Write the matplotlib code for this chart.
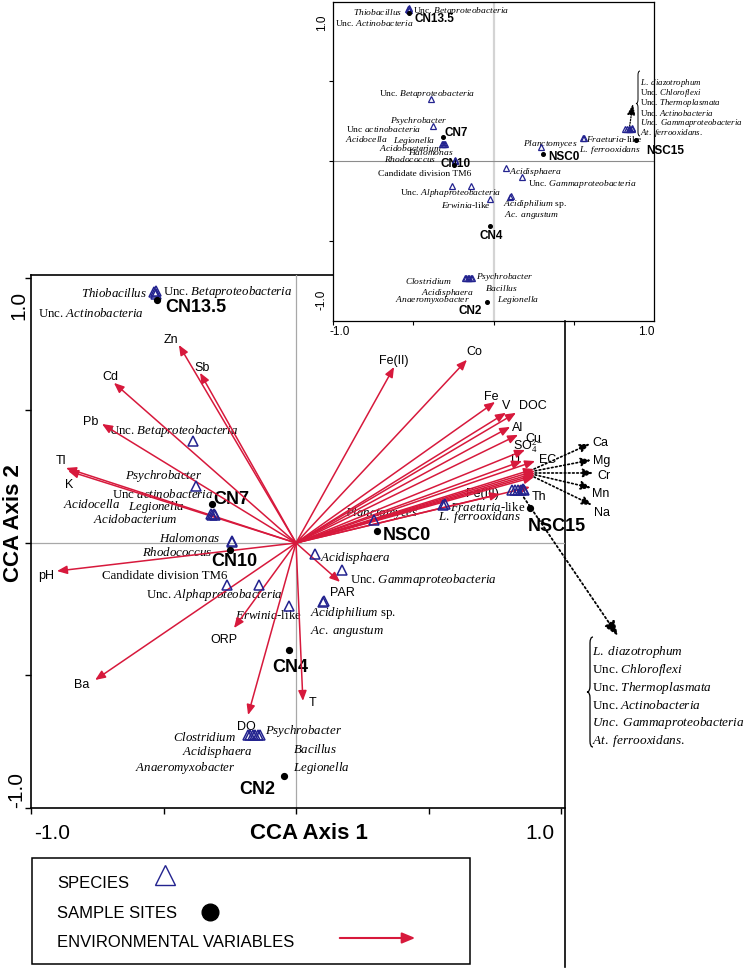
import matplotlib.pyplot as plt
from matplotlib.patches import FancyArrowPatch, Rectangle, PathPatch
from matplotlib.path import Path

# fonts: species in serif (italic genus names via mathtext), the rest in sans
plt.rcParams['mathtext.fontset'] = 'custom'
plt.rcParams['mathtext.rm'] = 'Liberation Serif'
plt.rcParams['mathtext.it'] = 'Liberation Serif:italic'
plt.rcParams['mathtext.bf'] = 'Liberation Serif:bold'

SERIF = 'Liberation Serif'
SANS = 'Liberation Sans'
RED = '#d7193c'
BLUE = '#23238f'

# ---- species scores (CCA axis 1, axis 2) ----
species_names = [
    '$Thiobacillus$', 'Unc. $Betaproteobacteria$', 'Unc. $Actinobacteria$',
    'Unc. $Betaproteobacteria$', '$Psychrobacter$', 'Unc $actinobacteria$',
    '$Acidocella$', '$Legionella$', '$Acidobacterium$', '$Halomonas$',
    '$Rhodococcus$', 'Candidate division TM6', 'Unc. $Alphaproteobacteria$',
    '$Erwinia$-like', '$Acidisphaera$', 'Unc. $Gammaproteobacteria$',
    '$Acidiphilium$ sp.', r'$Ac.\ angustum$', '$Clostridium$',
    '$Acidisphaera$', '$Anaeromyxobacter$', '$Psychrobacter$', '$Bacillus$',
    '$Legionella$', '$Planctomyces$', '$Fraeturia$-like', r'$L.\ ferrooxidans$',
    r'$L.\ diazotrophum$', 'Unc. $Chloroflexi$', 'Unc. $Thermoplasmata$',
    'Unc. $Actinobacteria$', r'$Unc.\ Gammaproteobacteria$', r'$At.\ ferrooxidans.$',
]
species_x = [-0.534, -0.530, -0.528, -0.389, -0.377, -0.321, -0.316, -0.311,
             -0.305, -0.242, -0.240, -0.260, -0.140, -0.026, 0.072, 0.174,
             0.102, 0.104, -0.181, -0.172, -0.163, -0.154, -0.145, -0.136,
             0.294, 0.556, 0.561, 0.815, 0.826, 0.837, 0.848, 0.855, 0.860]
species_y = [0.945, 0.949, 0.941, 0.385, 0.215, 0.108, 0.105, 0.108, 0.105,
             0.006, 0.002, -0.158, -0.158, -0.238, -0.042, -0.102, -0.223,
             -0.220, -0.725, -0.725, -0.725, -0.725, -0.725, -0.725, 0.087,
             0.143, 0.146, 0.200, 0.200, 0.200, 0.200, 0.203, 0.198]

# ---- sample sites ----
site_names = ['CN13.5', 'CN7', 'CN10', 'CN4', 'CN2', 'NSC0', 'NSC15']
site_x = [-0.525, -0.317, -0.249, -0.026, -0.045, 0.306, 0.883]
site_y = [0.917, 0.147, -0.026, -0.404, -0.879, 0.045, 0.132]

# ---- environmental variables (arrow tips) ----
env_names = ['Zn', 'Sb', 'Cd', 'Pb', 'Tl', 'K', 'pH', 'Ba', 'ORP', 'DO', 'T',
             'PAR', 'Fe(II)', 'Co', 'Fe', 'V', 'DOC', 'Al', 'Cu', 'SO4', 'U',
             'EC', 'Ca', 'Mg', 'Cr', 'Mn', 'Na', 'Th', 'Fe(III)']
env_x = [-0.442, -0.362, -0.687, -0.732, -0.868, -0.860, -0.902, -0.758,
         -0.234, -0.181, 0.026, 0.166, 0.370, 0.645, 0.751, 0.792, 0.830,
         0.808, 0.838, 0.864, 0.853, 0.902, 0.898, 0.902, 0.902, 0.902,
         0.898, 0.883, 0.770]
env_y = [0.747, 0.642, 0.604, 0.449, 0.283, 0.272, -0.106, -0.517, -0.321,
         -0.649, -0.596, -0.147, 0.664, 0.691, 0.532, 0.491, 0.491, 0.438,
         0.408, 0.351, 0.309, 0.309, 0.279, 0.272, 0.264, 0.257, 0.249,
         0.211, 0.185]
# variables whose real scores lie outside the frame (dotted extensions)
ext_names = ['Ca', 'Mg', 'Cr', 'Mn', 'Na']
ext_x = [1.109, 1.113, 1.121, 1.113, 1.117]
ext_y = [0.374, 0.313, 0.264, 0.208, 0.143]

# cluster of six species near NSC15, pointed to the brace list
cluster_idx = [27, 28, 29, 30, 31, 32]

# ---- label offsets (pixels right, pixels down; alignment) ----
main_sp_off = {
    0: (-7, 0, 'right'), 1: (7, 0, 'left'), 2: (-12, 19, 'right'),
    3: (-19, -11, 'center'), 4: (6, -11, 'right'), 5: (2, -21, 'right'),
    6: (-92, -12, 'right'), 7: (-29, -8, 'right'), 8: (-38, 3, 'right'),
    9: (-12, -4, 'right'), 10: (-20, 9, 'right'), 11: (0, -10, 'right'),
    12: (24, 9, 'right'), 13: (13, 8, 'right'), 14: (5, 3, 'left'),
    15: (8, 9, 'left'), 16: (-13, 10, 'left'), 17: (-14, 29, 'left'),
    18: (-12, 1, 'right'), 19: (2, 16, 'right'), 20: (-17, 32, 'right'),
    21: (10, -5, 'left'), 22: (35, 13, 'left'), 23: (33, 32, 'left'),
    24: (8, -8, 'center'), 25: (7, 1, 'left'), 26: (-7, 12, 'left'),
}
inset_sp_off = {
    0: (-6, 2, 'right'), 1: (4, 2, 'left'), 2: (5, 12, 'right'),
    3: (-4, -6, 'center'), 4: (14, -6, 'right'), 5: (-21, -16, 'right'),
    6: (-55, -6, 'right'), 7: (-9, -4, 'right'), 8: (-3, 3, 'right'),
    9: (-1, -9, 'right'), 10: (-19, -3, 'right'), 11: (19, -13, 'right'),
    12: (30, 6, 'right'), 13: (1, 5, 'right'), 14: (3, 3, 'left'),
    15: (6, 6, 'left'), 16: (-7, 6, 'left'), 17: (-7, 18, 'left'),
    18: (-13, 2, 'right'), 19: (8, 14, 'right'), 20: (2, 21, 'right'),
    21: (7, -2, 'left'), 22: (14, 9, 'left'), 23: (25, 21, 'left'),
    24: (9, -4, 'center'), 25: (3, 0, 'left'), 26: (-5, 11, 'left'),
}
main_site_off = [(8, 7, 'left'), (1, -5, 'left'), (4, 11, 'center'),
                 (1, 16, 'center'), (-27, 13, 'center'), (6, 3, 'left'),
                 (-2, 18, 'left')]
inset_site_off = [(5, 5, 'left'), (2, -5, 'left'), (2, -2, 'center'),
                  (1, 9, 'center'), (-17, 8, 'center'), (5, 2, 'left'),
                  (10, 10, 'left')]
env_off = {
    'Zn': (-8, -6), 'Sb': (2, -6), 'Cd': (-4, -7), 'Pb': (-11, -3),
    'Tl': (-5, -8), 'K': (1, 13), 'pH': (-11, 4), 'Ba': (-13, 4),
    'ORP': (-10, 11), 'DO': (-2, 11), 'T': (10, 1), 'PAR': (2, 10),
    'Fe(II)': (0, -7), 'Co': (7, -9), 'Fe': (-4, -6), 'V': (0, -8),
    'DOC': (17, -8), 'Al': (7, 0), 'Cu': (15, 3), 'SO4': (3, -5),
    'U': (-7, -2), 'EC': (13, -2), 'Th': (9, 9), 'Fe(III)': (-18, -1),
}
ext_off = {'Ca': (2, -2), 'Mg': (2, 0), 'Cr': (4, 2), 'Mn': (1, 5), 'Na': (2, 7)}

PT = 0.72  # pixel -> point at dpi 100


def px(x, y):
    """ピクセル座標 -> figure fraction"""
    return x / 748, 1 - y / 970


def label(ax, text, x, y, off, size, **kw):
    dx, dy = off[0], off[1]
    ha = off[2] if len(off) > 2 else 'center'
    ax.annotate(text, (x, y), xytext=(dx * PT, -dy * PT),
                textcoords='offset points', ha=ha, va='center',
                fontsize=size, annotation_clip=False, **kw)


def brace(ax, x, y0, y1, w, lw):
    """左向きの波括弧 (ピクセル座標, y下向き)"""
    m = (y0 + y1) / 2
    r = w
    verts = [(x + w, y0), (x + w / 2, y0), (x + w / 2, y0 + r),
             (x + w / 2, m - r), (x + w / 2, m), (x, m),
             (x + w / 2, m), (x + w / 2, m + r),
             (x + w / 2, y1 - r), (x + w / 2, y1), (x + w, y1)]
    codes = [Path.MOVETO, Path.CURVE3, Path.CURVE3, Path.LINETO,
             Path.CURVE3, Path.CURVE3, Path.CURVE3, Path.CURVE3,
             Path.LINETO, Path.CURVE3, Path.CURVE3]
    ax.add_patch(PathPatch(Path(verts, codes), fill=False, lw=lw, color='black'))


fig = plt.figure(figsize=(7.48, 9.70), dpi=100)

# overlay in pixel coordinates for frame lines, brace lists and legend
ov = fig.add_axes([0, 0, 1, 1])
ov.set_xlim(0, 748)
ov.set_ylim(970, 0)
ov.axis('off')
ov.plot([31, 333], [276, 276], color='black', lw=1.2)
ov.plot([565, 565], [322, 968], color='black', lw=1.2)

# tick labels and axis titles of the main plot
ov.text(19, 305, '1.0', rotation=90, ha='center', va='center', fontsize=15, family=SANS)
ov.text(17, 790, '-1.0', rotation=90, ha='center', va='center', fontsize=15, family=SANS)
ov.text(52, 834, '-1.0', ha='center', va='center', fontsize=15, family=SANS)
ov.text(540, 834, '1.0', ha='center', va='center', fontsize=15, family=SANS)
ov.text(309, 834, 'CCA Axis 1', ha='center', va='center', fontsize=16,
        family=SANS, weight='bold')
ov.text(14, 523, 'CCA Axis 2', rotation=90, ha='center', va='center',
        fontsize=16, family=SANS, weight='bold')
# inset tick labels
ov.text(322, 23, '1.0', rotation=90, ha='center', va='center', fontsize=8.5, family=SANS)
ov.text(322, 300, '-1.0', rotation=90, ha='center', va='center', fontsize=8.5, family=SANS)
ov.text(340, 332, '-1.0', ha='center', va='center', fontsize=8.5, family=SANS)
ov.text(646, 332, '1.0', ha='center', va='center', fontsize=8.5, family=SANS)

# brace lists of the NSC15 species cluster
brace(ov, 587, 638, 748, 6, 0.9)
for k, i in enumerate(cluster_idx):
    ov.text(592, 652 + k * 17.8, species_names[i], ha='left', va='center',
            fontsize=9.5, family=SERIF)
brace(ov, 636, 72, 137, 4, 0.7)
for k, i in enumerate(cluster_idx):
    ov.text(640, 83 + k * 10, species_names[i], ha='left', va='center',
            fontsize=6.4, family=SERIF)

# legend box
ov.add_patch(Rectangle((32, 859), 438, 106, fill=False, lw=1.1, color='black'))
ov.text(57, 884, 'SPECIES', ha='left', va='center', fontsize=12, family=SANS)
ov.text(57, 914, 'SAMPLE SITES', ha='left', va='center', fontsize=12, family=SANS)
ov.text(57, 943, 'ENVIRONMENTAL VARIABLES', ha='left', va='center', fontsize=12, family=SANS)
ov.plot([165], [876], marker='^', ms=14, mfc='none', mec=BLUE, mew=1.0)
ov.plot([210], [913], marker='o', ms=12, color='black')
ov.add_patch(FancyArrowPatch((337, 939), (418, 939),
                             arrowstyle='-|>,head_length=0.6,head_width=0.25',
                             mutation_scale=13, color=RED, lw=1.5))

# ---- main biplot ----
x0, y0 = px(31, 809)
x1, y1 = px(565, 276)
ax = fig.add_axes([x0, y0, x1 - x0, y1 - y0])
ax.patch.set_alpha(0)
ax.set_xlim(-1.0, 1.015)
ax.set_ylim(-1.0, 1.011)
for s in ['top', 'right']:
    ax.spines[s].set_visible(False)
for s in ['left', 'bottom']:
    ax.spines[s].set_linewidth(1.2)
ax.set_xticks([-1, -0.5, 0, 0.5, 1])
ax.set_yticks([-1, -0.5, 0, 0.5, 1])
ax.tick_params(direction='out', length=4, width=1, labelbottom=False, labelleft=False)
ax.axhline(0, color='#a8a8a8', lw=0.9, zorder=1)
ax.axvline(0, color='#a8a8a8', lw=0.9, zorder=1)

head = '-|>,head_length=0.6,head_width=0.25'
for n, ex, ey in zip(env_names, env_x, env_y):
    ax.add_patch(FancyArrowPatch((0, 0), (ex, ey), arrowstyle=head,
                                 mutation_scale=10, color=RED, lw=1.1,
                                 shrinkA=0, shrinkB=0, zorder=4))
    if n in env_off:
        txt = r'SO$_4^{2-}$' if n == 'SO4' else n
        label(ax, txt, ex, ey, env_off[n], 9, family=SANS, zorder=3)

for n, xx, yy in zip(ext_names, ext_x, ext_y):
    i = env_names.index(n)
    ax.add_patch(FancyArrowPatch((env_x[i], env_y[i]), (xx, yy),
                                 arrowstyle='-|>,head_length=0.6,head_width=0.25',
                                 mutation_scale=10, color='black', lw=1.2,
                                 linestyle=(0, (1, 1.5)), shrinkA=0, shrinkB=0,
                                 clip_on=False, zorder=4))
    label(ax, n, xx, yy, ext_off[n] + ('left',), 9, family=SANS)

# dotted pointer from the NSC15 species cluster to the brace list
cx = sum(species_x[i] for i in cluster_idx) / len(cluster_idx)
cy = sum(species_y[i] for i in cluster_idx) / len(cluster_idx)
ax.add_patch(FancyArrowPatch((cx, cy), (1.215, -0.351),
                             arrowstyle='-|>,head_length=0.9,head_width=0.35',
                             mutation_scale=10, color='black', lw=1.3,
                             linestyle=(0, (1, 1.5)), shrinkA=0, shrinkB=0,
                             clip_on=False, zorder=4))

ax.plot(species_x, species_y, linestyle='none', marker='^', ms=6.5,
        mfc='none', mec=BLUE, mew=1.1, zorder=5, clip_on=False)
for i, off in main_sp_off.items():
    label(ax, species_names[i], species_x[i], species_y[i], off, 9.3,
          family=SERIF, zorder=2)

ax.plot(site_x, site_y, linestyle='none', marker='o', ms=4.2, color='black',
        zorder=5)
for n, xx, yy, off in zip(site_names, site_x, site_y, main_site_off):
    label(ax, n, xx, yy, off, 13, family=SANS, weight='bold', zorder=2)

# ---- inset (same ordination without vectors) ----
x0, y0 = px(333, 322)
x1, y1 = px(654, 3)
ins = fig.add_axes([x0, y0, x1 - x0, y1 - y0])
ins.patch.set_alpha(0)
ins.set_xlim(-1.0, 0.994)
ins.set_ylim(-0.994, 0.988)
ins.set_xticks([-1, -0.5, 0, 0.5])
ins.set_yticks([-0.5, 0, 0.5])
ins.tick_params(direction='out', length=3, width=0.8, labelbottom=False, labelleft=False)
for s in ins.spines.values():
    s.set_linewidth(0.9)
ins.axvline(0, color='#d4d4d4', lw=1.6, zorder=1)
ins.axhline(0, color='#8c8c8c', lw=0.8, zorder=1)

ins.plot(species_x, species_y, linestyle='none', marker='^', ms=4,
         mfc='none', mec=BLUE, mew=0.9, zorder=5)
for i, off in inset_sp_off.items():
    label(ins, species_names[i], species_x[i], species_y[i], off, 6.8,
          family=SERIF, zorder=2)
ins.plot(site_x, site_y, linestyle='none', marker='o', ms=2.6, color='black',
         zorder=5)
for n, xx, yy, off in zip(site_names, site_x, site_y, inset_site_off):
    label(ins, n, xx, yy, off, 8.5, family=SANS, weight='bold', zorder=2)
ins.add_patch(FancyArrowPatch((cx, cy), (0.863, 0.354),
                              arrowstyle='-|>,head_length=0.8,head_width=0.3',
                              mutation_scale=8, color='black', lw=0.9,
                              linestyle=(0, (1, 1.2)), shrinkA=0, shrinkB=0,
                              zorder=4))

fig.savefig('out.png', dpi=100)
